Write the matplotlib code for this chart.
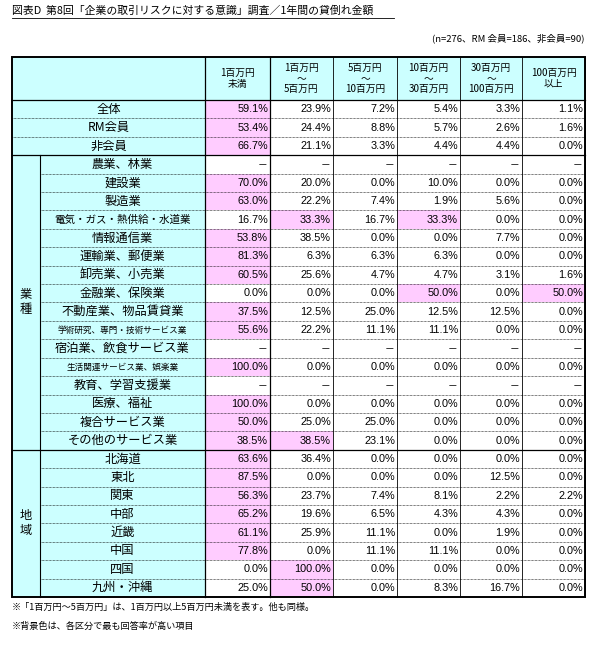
import matplotlib.pyplot as plt
from matplotlib.patches import Rectangle

plt.rcParams['font.family'] = ['Noto Sans CJK JP', 'DejaVu Sans']

title = '図表D  第8回「企業の取引リスクに対する意識」調査／1年間の貸倒れ金額'
subtitle = '(n=276、RM 会員=186、非会員=90)'
headers = ['1百万円\n未満', '1百万円\n～\n5百万円', '5百万円\n～\n10百万円',
           '10百万円\n～\n30百万円', '30百万円\n～\n100百万円', '100百万円\n以上']

total_labels = ['全体', 'RM会員', '非会員']
total_values = [
    [59.1, 23.9, 7.2, 5.4, 3.3, 1.1],
    [53.4, 24.4, 8.8, 5.7, 2.6, 1.6],
    [66.7, 21.1, 3.3, 4.4, 4.4, 0.0],
]
industry_labels = ['農業、林業', '建設業', '製造業', '電気・ガス・熱供給・水道業', '情報通信業',
                   '運輸業、郵便業', '卸売業、小売業', '金融業、保険業', '不動産業、物品賃貸業',
                   '学術研究、専門・技術サービス業', '宿泊業、飲食サービス業', '生活関連サービス業、娯楽業',
                   '教育、学習支援業', '医療、福祉', '複合サービス業', 'その他のサービス業']
industry_values = [
    None,
    [70.0, 20.0, 0.0, 10.0, 0.0, 0.0],
    [63.0, 22.2, 7.4, 1.9, 5.6, 0.0],
    [16.7, 33.3, 16.7, 33.3, 0.0, 0.0],
    [53.8, 38.5, 0.0, 0.0, 7.7, 0.0],
    [81.3, 6.3, 6.3, 6.3, 0.0, 0.0],
    [60.5, 25.6, 4.7, 4.7, 3.1, 1.6],
    [0.0, 0.0, 0.0, 50.0, 0.0, 50.0],
    [37.5, 12.5, 25.0, 12.5, 12.5, 0.0],
    [55.6, 22.2, 11.1, 11.1, 0.0, 0.0],
    None,
    [100.0, 0.0, 0.0, 0.0, 0.0, 0.0],
    None,
    [100.0, 0.0, 0.0, 0.0, 0.0, 0.0],
    [50.0, 25.0, 25.0, 0.0, 0.0, 0.0],
    [38.5, 38.5, 23.1, 0.0, 0.0, 0.0],
]
small_labels = ['学術研究、専門・技術サービス業', '生活関連サービス業、娯楽業']
region_labels = ['北海道', '東北', '関東', '中部', '近畿', '中国', '四国', '九州・沖縄']
region_values = [
    [63.6, 36.4, 0.0, 0.0, 0.0, 0.0],
    [87.5, 0.0, 0.0, 0.0, 12.5, 0.0],
    [56.3, 23.7, 7.4, 8.1, 2.2, 2.2],
    [65.2, 19.6, 6.5, 4.3, 4.3, 0.0],
    [61.1, 25.9, 11.1, 0.0, 1.9, 0.0],
    [77.8, 0.0, 11.1, 11.1, 0.0, 0.0],
    [0.0, 100.0, 0.0, 0.0, 0.0, 0.0],
    [25.0, 50.0, 0.0, 8.3, 16.7, 0.0],
]
notes = ['※「1百万円～5百万円」は、1百万円以上5百万円未満を表す。他も同様。',
         '※背景色は、各区分で最も回答率が高い項目']

CYAN = '#ccffff'
PINK = '#ffccff'

fig = plt.figure(figsize=(5.98, 6.46), dpi=100)
ax = fig.add_axes([0, 0, 1, 1])
ax.set_xlim(0, 598)
ax.set_ylim(646, 0)
ax.axis('off')

x_grp, x_lab, col_x = 12, 40, [205, 270, 333, 397, 460, 522, 585]
y_head, y_body = 57, 100
n_rows = len(total_labels) + len(industry_labels) + len(region_labels)
row_h = (597 - y_body) / n_rows

ax.text(12, 11, title, fontsize=7.8, va='center', ha='left')
ax.plot([12, 394], [18, 18], color='black', lw=0.6)
ax.text(585, 38, subtitle, fontsize=6.8, va='center', ha='right')

# header
ax.add_patch(Rectangle((x_grp, y_head), col_x[-1] - x_grp, y_body - y_head, fc=CYAN, ec='none'))
for i, h in enumerate(headers):
    cx = (col_x[i] + col_x[i + 1]) / 2
    ax.text(cx, (y_head + y_body) / 2, h, fontsize=7, ha='center', va='center', linespacing=1.05)

rows = []
for lab, v in zip(total_labels, total_values):
    rows.append((None, lab, v))
for lab, v in zip(industry_labels, industry_values):
    rows.append(('ind', lab, v))
for lab, v in zip(region_labels, region_values):
    rows.append(('reg', lab, v))

for r, (grp, lab, vals) in enumerate(rows):
    y0 = y_body + r * row_h
    yc = y0 + row_h / 2
    lx = x_grp if grp is None else x_lab
    ax.add_patch(Rectangle((lx, y0), col_x[0] - lx, row_h, fc=CYAN, ec='none'))
    small = lab in small_labels
    if lab == '電気・ガス・熱供給・水道業':
        fs = 7.6
    else:
        fs = 6.2 if small else 8.8
    ax.text((lx + col_x[0]) / 2, yc, lab, fontsize=fs, ha='center', va='center')
    for i in range(6):
        xr = col_x[i + 1]
        if vals is None:
            ax.text(xr - 3, yc, '－', fontsize=7, ha='right', va='center')
            continue
        if vals[i] == max(vals):
            ax.add_patch(Rectangle((col_x[i], y0), xr - col_x[i], row_h, fc=PINK, ec='none'))
        ax.text(xr - 2, yc, f'{vals[i]:.1f}%', fontsize=7.8, ha='right', va='center',
                family=['Liberation Sans Narrow', 'Liberation Sans', 'DejaVu Sans'])
    if r > 0:
        same = (rows[r - 1][0] == grp)
        x_start = lx if (grp is not None and same) else x_grp
        ax.plot([x_start, col_x[-1]], [y0, y0], color='black',
                lw=0.5 if same else 0.9, ls=(0, (1, 1)) if same else '-')

# group columns
n_tot = len(total_labels)
for grp_lab, start, cnt in [('業\n種', n_tot, len(industry_labels)),
                            ('地\n域', n_tot + len(industry_labels), len(region_labels))]:
    y0 = y_body + start * row_h
    ax.add_patch(Rectangle((x_grp, y0), x_lab - x_grp, cnt * row_h, fc=CYAN, ec='none'))
    ax.plot([x_lab, x_lab], [y0, y0 + cnt * row_h], color='black', lw=0.8)
    ax.text((x_grp + x_lab) / 2, y0 + cnt * row_h / 2, grp_lab, fontsize=8.8,
            ha='center', va='center', linespacing=1.2)

y_end = y_body + n_rows * row_h
for i, x in enumerate(col_x):
    ax.plot([x, x], [y_head, y_end], color='black', lw=0.9 if i < 2 else 0.6)
ax.plot([x_grp, col_x[-1]], [y_body, y_body], color='black', lw=0.9)
ax.add_patch(Rectangle((x_grp, y_head), col_x[-1] - x_grp, y_end - y_head, fc='none', ec='black', lw=1.4))

ax.text(12, 607, notes[0], fontsize=6.6, va='center', ha='left')
ax.text(12, 626, notes[1], fontsize=6.6, va='center', ha='left')

fig.savefig('out.png', dpi=100)
